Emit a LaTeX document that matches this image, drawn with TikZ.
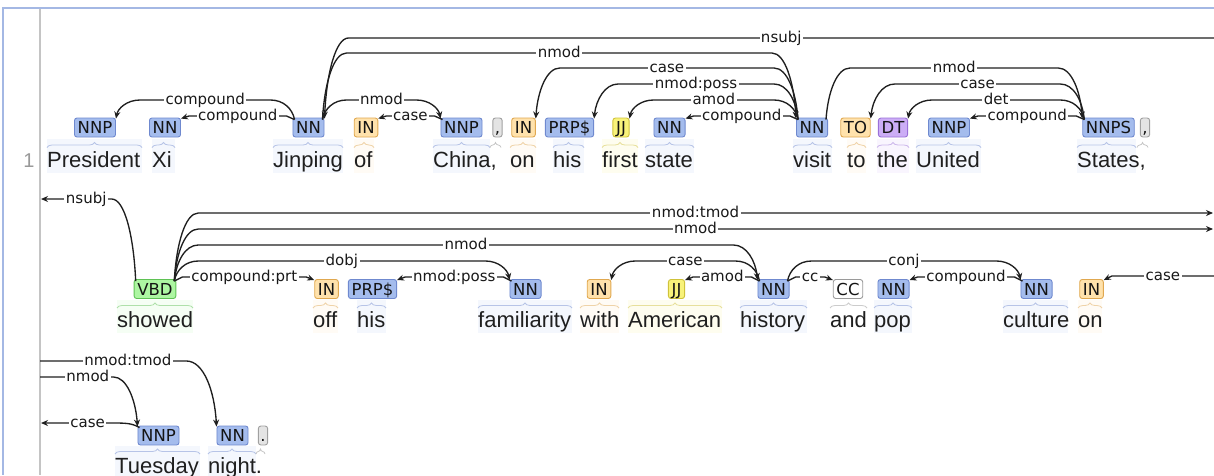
\documentclass[tikz,border=0pt]{standalone}
\usepackage{fontspec}
\setmainfont{Liberation Sans}
\newfontfamily\tagfont{DejaVu Sans}
\usetikzlibrary{arrows.meta,calc,decorations.pathreplacing}
\definecolor{nnF}{HTML}{A4BCED}\definecolor{nnD}{HTML}{6F89CF}
\definecolor{inF}{HTML}{FFE2AC}\definecolor{inD}{HTML}{E0A850}
\definecolor{jjF}{HTML}{F8F27A}\definecolor{jjD}{HTML}{CFC23A}
\definecolor{dtF}{HTML}{CCADF6}\definecolor{dtD}{HTML}{9A70D8}
\definecolor{vbF}{HTML}{ADF6A2}\definecolor{vbD}{HTML}{5FC255}
\definecolor{ccF}{HTML}{FFFFFF}\definecolor{ccD}{HTML}{9A9A9A}
\definecolor{puF}{HTML}{E4E4E4}\definecolor{puD}{HTML}{A0A0A0}
\definecolor{frameblue}{HTML}{A4B8E4}
\definecolor{gutter}{HTML}{C4C4C4}
\tikzset{
 tagbase/.style={rounded corners=2.5pt, line width=0.9pt, inner xsep=3.2pt, inner ysep=3pt,
   text height=12.5pt, text depth=0.5pt, font=\tagfont\fontsize{16.5}{16.5}\selectfont, text=black!92},
 tagbox/.style={tagbase, fill=#1F, draw=#1D},
 word/.style={font=\fontsize{22}{22}\selectfont, inner sep=0pt, anchor=base west, text=black!88},
 lbl/.style={font=\tagfont\fontsize{15}{15}\selectfont, fill=white, inner xsep=1.5pt, inner ysep=0pt,
   text height=11pt, text depth=3pt, text=black!90},
 brc/.style={decorate, decoration={brace, amplitude=5pt}, draw=#1, line width=0.8pt},
 dep/.style={draw=black!88, line width=1.35pt, -{Stealth[length=7pt,width=6pt]}},
}
% token: name, tag x, colour key, tag, word, left, right
\newcommand\tok[7]{%
 \fill[#3F!12] (#6,\bgtop) rectangle (#7,\bgbot);
 \draw[brc=#3D!50] (#6,\bracey) -- (#7,\bracey);
 \node[word] (w#1) at (#6,\basey) {#5};
 \node[tagbox=#3] (#1) at (#2,\tagy) {#4};}
\newcommand\ptok[5]{%
 \draw[brc=puD!60] (#3,\bracey) -- (#4,\bracey);
 \node[tagbox=pu, inner xsep=2pt] (#1) at (#2,\tagy) {#5};}
% arcs: label name, head, dependent, level, label
\newcommand\arcL[5]{%
 \draw[dep] let \p1=([xshift=2pt,yshift=-2pt]#2.north west), \p2=([yshift=-1pt]#3.north east) in
 (\p1) .. controls ({\x1-2pt},{0.55*(-#4pt)+0.45*(\y1)}) and ({\x1-11pt},{-#4pt}) .. ({\x1-24pt},{-#4pt})
 -- node[lbl] (#1) {#5} ({\x2+24pt},{-#4pt})
 .. controls ({\x2+11pt},{-#4pt}) and ({\x2+2pt},{0.55*(-#4pt)+0.45*(\y2)}) .. (\p2);}
\newcommand\arcR[5]{%
 \draw[dep] let \p1=([xshift=-2pt,yshift=-2pt]#2.north east), \p2=([yshift=-1pt]#3.north west) in
 (\p1) .. controls ({\x1+2pt},{0.55*(-#4pt)+0.45*(\y1)}) and ({\x1+11pt},{-#4pt}) .. ({\x1+24pt},{-#4pt})
 -- node[lbl] (#1) {#5} ({\x2-24pt},{-#4pt})
 .. controls ({\x2-11pt},{-#4pt}) and ({\x2-2pt},{0.55*(-#4pt)+0.45*(\y2)}) .. (\p2);}
\newcommand\lowL[5]{%
 \draw[dep] let \p1=([xshift=2pt,yshift=-2pt]#2.north west), \p2=([yshift=-1pt]#3.north east) in
 (\p1) -- ({\x1-8pt},{-#4pt}) -- node[lbl] (#1) {#5} ({\x2+8pt},{-#4pt}) -- (\p2);}
\newcommand\lowR[5]{%
 \draw[dep] let \p1=([xshift=-2pt,yshift=-2pt]#2.north east), \p2=([yshift=-1pt]#3.north west) in
 (\p1) -- ({\x1+8pt},{-#4pt}) -- node[lbl] (#1) {#5} ({\x2-8pt},{-#4pt}) -- (\p2);}
\begin{document}
\begin{tikzpicture}[x=1pt,y=-1pt]
\useasboundingbox (0,0) rectangle (1214,475);
% frame
\draw[frameblue, line width=1.2pt] (3,475) -- (3,8) -- (1214,8);
\draw[gutter, line width=2pt] (40,9) -- (40,475);
\node[font=\fontsize{20}{20}\selectfont, text=black!40, anchor=base, inner sep=0pt] (num) at (29,167) {1};
% ---- row 1
\def\tagy{127.5}\def\basey{167}\def\bracey{147.5}\def\bgtop{139}\def\bgbot{173}
\tok{pres}{95}{nn}{NNP}{President}{47}{142}
\tok{xi}{165}{nn}{NN}{Xi}{152}{175}
\tok{jin}{308.5}{nn}{NN}{Jinping}{273}{343}
\tok{of}{366}{in}{IN}{of}{354}{374}
\tok{china}{461.5}{nn}{NNP}{China,}{433}{490}
\ptok{cma}{497.5}{490}{501}{,}
\tok{ona}{523.5}{in}{IN}{on}{510}{536}
\tok{hisa}{569.5}{nn}{PRP\$}{his}{553}{584}
\tok{first}{621}{jj}{JJ}{first}{602}{638}
\tok{state}{669.5}{nn}{NN}{state}{645}{694}
\tok{visit}{812}{nn}{NN}{visit}{793}{832}
\tok{to}{855.5}{in}{TO}{to}{847}{866}
\tok{the}{893}{dt}{DT}{the}{877}{909}
\tok{united}{949}{nn}{NNP}{United}{916}{981}
\tok{states}{1108.5}{nn}{NNPS}{States,}{1077}{1136}
\ptok{cmb}{1145}{1137}{1148}{,}
% ---- row 2
\def\tagy{289}\def\basey{327}\def\bracey{308}\def\bgtop{300}\def\bgbot{333}
\tok{showed}{155}{vb}{VBD}{showed}{117}{193}
\tok{off}{326.5}{in}{IN}{off}{313}{338}
\tok{hisb}{372.5}{nn}{PRP\$}{his}{357}{386}
\tok{fam}{525.5}{nn}{NN}{familiarity}{478}{572}
\tok{with}{599}{in}{IN}{with}{580}{619}
\tok{amer}{676.5}{jj}{JJ}{American}{628}{722}
\tok{hist}{773.5}{nn}{NN}{history}{740}{807}
\tok{and}{848}{cc}{CC}{and}{830}{867}
\tok{pop}{893.5}{nn}{NN}{pop}{874}{912}
\tok{cult}{1036.5}{nn}{NN}{culture}{1003}{1068}
\tok{onb}{1091.5}{in}{IN}{on}{1078}{1102}
% ---- row 3
\def\tagy{435.5}\def\basey{473.5}\def\bracey{454}\def\bgtop{446}\def\bgbot{480}
\tok{tue}{158.5}{nn}{NNP}{Tuesday}{115}{200}
\tok{night}{232.5}{nn}{NN}{night.}{208}{256}
\ptok{dot}{263}{256}{265}{.}
% ---- row 1 arcs
\arcL{la}{jin}{pres}{100}{compound}
\lowL{lb}{jin}{xi}{116}{compound}
\arcR{lc}{jin}{china}{100}{nmod}
\lowL{ld}{china}{of}{116}{case}
\coordinate (eRa) at (1214,38);
\draw[dep] let \p2=([yshift=-1pt]jin.north east) in
 (eRa) -- node[lbl] (le) {nsubj} ({\x2+24pt},-38pt)
 .. controls ({\x2+11pt},-38pt) and ({\x2+2pt},{0.55*(-38pt)+0.45*(\y2)}) .. (\p2);
\arcR{lf}{jin}{visit}{53}{nmod}
\arcL{lg}{visit}{ona}{68}{case}
\arcL{lh}{visit}{hisa}{84}{nmod:poss}
\arcL{li}{visit}{first}{100}{amod}
\lowL{lj}{visit}{state}{116}{compound}
\arcR{lk}{visit}{states}{68}{nmod}
\arcL{ll}{states}{to}{84}{case}
\arcL{lm}{states}{the}{100}{det}
\lowL{ln}{states}{united}{116}{compound}
% ---- row 2 arcs
\coordinate (eLb) at (41,199);
\draw[dep] let \p1=([xshift=2pt,yshift=-2pt]showed.north west) in
 (\p1) .. controls ({\x1-2pt},{0.55*(-199pt)+0.45*(\y1)}) and ({\x1-11pt},-199pt) .. ({\x1-24pt},-199pt)
 -- node[lbl,pos=0.36] (lo) {nsubj} (eLb);
\coordinate (eRb) at (1213,213);
\draw[dep] let \p1=([xshift=-2pt,yshift=-2pt]showed.north east) in
 (\p1) .. controls ({\x1+2pt},{0.55*(-213pt)+0.45*(\y1)}) and ({\x1+11pt},-213pt) .. ({\x1+24pt},-213pt)
 -- node[lbl,pos=0.49] (lp) {nmod:tmod} (eRb);
\coordinate (eRc) at (1213,229);
\draw[dep] let \p1=([xshift=-2pt,yshift=-2pt]showed.north east) in
 (\p1) .. controls ({\x1+2pt},{0.55*(-229pt)+0.45*(\y1)}) and ({\x1+11pt},-229pt) .. ({\x1+24pt},-229pt)
 -- node[lbl,pos=0.49] (lq) {nmod} (eRc);
\arcR{lr}{showed}{hist}{245}{nmod}
\arcR{ls}{showed}{fam}{261}{dobj}
\lowR{lt}{showed}{off}{277}{compound:prt}
\lowL{lu}{fam}{hisb}{277}{nmod:poss}
\arcL{lv}{hist}{with}{261}{case}
\lowL{lw}{hist}{amer}{277}{amod}
\lowR{lx}{hist}{and}{277}{cc}
\arcR{ly}{hist}{cult}{261}{conj}
\lowL{lz}{cult}{pop}{277}{compound}
\coordinate (eRd) at (1214,276);
\draw[dep] let \p2=([yshift=-1pt]onb.north east) in
 (eRd) -- node[lbl] (lca) {case} ({\x2+8pt},-276pt) -- (\p2);
% ---- row 3 arcs
\coordinate (eLc) at (40,361);
\draw[dep] let \p2=([yshift=-1pt]night.north west) in
 (eLc) -- node[lbl,pos=0.6] (lcb) {nmod:tmod} ({\x2-30pt},-361pt)
 .. controls ({\x2-13pt},-361pt) and ({\x2-2pt},{0.55*(-361pt)+0.45*(\y2)}) .. (\p2);
\coordinate (eLd) at (40,377);
\draw[dep] let \p2=([yshift=-1pt]tue.north west) in
 (eLd) -- node[lbl,pos=0.65] (lcc) {nmod} ({\x2-24pt},-377pt)
 .. controls ({\x2-11pt},-377pt) and ({\x2-2pt},{0.55*(-377pt)+0.45*(\y2)}) .. (\p2);
\coordinate (eLe) at (41,423);
\draw[dep] let \p1=([xshift=2pt,yshift=-2pt]tue.north west) in
 (\p1) .. controls ({\x1-8pt},-423pt) and ({\x1-14pt},-423pt) .. ({\x1-28pt},-423pt)
 -- node[lbl,pos=0.34] (lcd) {case} (eLe);
\end{tikzpicture}
\end{document}
